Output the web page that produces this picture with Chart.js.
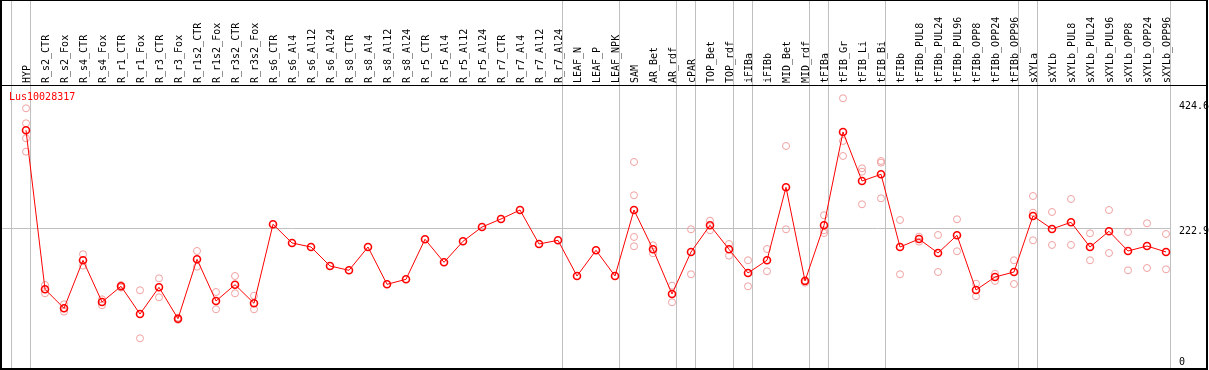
<!DOCTYPE html>
<html>
<head>
<meta charset="utf-8">
<script src="https://cdn.jsdelivr.net/npm/chart.js@4"></script>
<style>
  html, body { margin: 0; padding: 0; background: #fff; }
  #wrap { width: 1209px; height: 370px; position: relative; }
</style>
</head>
<body>
<div id="wrap"><canvas id="myChart" width="1209" height="370"></canvas></div>
<script>
const geneName = 'Lus10028317';

const samples = ['HYP','R_s2_CTR','R_s2_Fox','R_s4_CTR','R_s4_Fox','R_r1_CTR','R_r1_Fox','R_r3_CTR','R_r3_Fox',
  'R_r1s2_CTR','R_r1s2_Fox','R_r3s2_CTR','R_r3s2_Fox','R_s6_CTR','R_s6_Al4','R_s6_Al12','R_s6_Al24',
  'R_s8_CTR','R_s8_Al4','R_s8_Al12','R_s8_Al24','R_r5_CTR','R_r5_Al4','R_r5_Al12','R_r5_Al24',
  'R_r7_CTR','R_r7_Al4','R_r7_Al12','R_r7_Al24','LEAF_N','LEAF_P','LEAF_NPK','SAM','AR_Bet','AR_rdf',
  'cPAR','TOP_Bet','TOP_rdf','iFIBa','iFIBb','MID_Bet','MID_rdf','tFIBa','tFIB_Gr','tFIB_Li','tFIB_Bi',
  'tFIBb','tFIBb_PUL8','tFIBb_PUL24','tFIBb_PUL96','tFIBb_OPP8','tFIBb_OPP24','tFIBb_OPP96',
  'sXYLa','sXYLb','sXYLb_PUL8','sXYLb_PUL24','sXYLb_PUL96','sXYLb_OPP8','sXYLb_OPP24','sXYLb_OPP96'];

const meanValues = [380.3,123.8,93.1,170.6,103.3,128.6,83.9,127.0,76.3,
  172.2,104.9,131.2,101.2,228.7,198.5,192.0,161.4,
  154.4,192.0,131.8,139.9,204.5,167.3,201.2,224.3,
  237.2,251.7,196.9,202.8,145.2,186.7,145.2,251.7,188.3,116.2,
  184.0,227.1,188.3,150.1,170.6,288.4,137.2,227.1,377.6,298.5,309.3,
  192.0,204.9,182.3,210.9,122.6,143.6,151.7,
  242.1,221.1,231.9,192.0,217.4,185.6,193.6,184.0];

// replicate measurements, one list per sample (empty where only the mean is shown)
const replicates = [
  [415.8,391.6,367.4,345.8],[130.7,117.3],[99.6,87.6,93.1],[180.3,161.9],[107.6,98.0],[126.5,130.7],[122.2,44.7],[141.5,110.9],[74.5,78.1],
  [185.6,160.2],[119.4,91.5],[145.2,117.3],[113.4,91.5],[],[],[],[],
  [],[],[],[],[],[],[],[],
  [],[],[],[],[],[],[],[329.2,275.5,208.2,193.2],[194.8,181.9],[129.6,102.8],
  [220.6,148.0],[234.5,219.0],[196.9,178.0],[170.6,128.6],[188.8,152.8],[355.0,220.6],[138.3,134.4],[243.2,219.0,214.6],[432.0,363.1,338.9],[319.0,313.5,260.9],[330.8,328.1,270.6],
  [235.6,148.0],[208.7,200.6],[211.4,151.7],[236.7,185.1],[132.8,112.5],[148.9,137.2],[170.6,132.3],
  [274.3,247.4,202.8],[248.5,195.3],[269.5,195.3],[214.1,170.6],[251.7,182.3],[216.2,154.4],[230.3,158.1],[213.0,156.0]
];

// indices where a new sample group starts (grey separators)
const groupStarts = [0,1,29,32,35,36,38,39,42,43,46,53,54,61];
const yTicks = [0, 222.9, 424.6];
const refLine = 222.9;

const meanPoints = meanValues.map((v, i) => ({ x: i, y: v }));
const repPoints = [];
replicates.forEach((reps, i) => reps.forEach(v => repPoints.push({ x: i, y: v })));

const FONT = '10px "DejaVu Sans Mono", monospace';

const frame = {
  id: 'frame',
  beforeDatasetsDraw(chart) {
    const { ctx, scales: { x, y } } = chart;
    const H = chart.height;
    ctx.save();
    ctx.strokeStyle = '#c0c0c0';
    ctx.lineWidth = 1;
    groupStarts.forEach(i => {
      const px = Math.round(x.getPixelForValue(i - 0.78)) + 0.5;
      ctx.beginPath(); ctx.moveTo(px, 0); ctx.lineTo(px, H - 1); ctx.stroke();
    });
    const gy = Math.round(y.getPixelForValue(refLine)) + 0.5;
    const gEnd = Math.round(x.getPixelForValue(samples.length - 0.78));
    ctx.beginPath(); ctx.moveTo(0, gy); ctx.lineTo(gEnd, gy); ctx.stroke();
    ctx.restore();
  },
  afterDraw(chart) {
    const { ctx, scales: { x, y }, chartArea } = chart;
    const H = chart.height;
    ctx.save();
    // outer frame and header separator
    ctx.fillStyle = '#000';
    ctx.fillRect(0, 0, 1207, 1);
    ctx.fillRect(0, 0, 2, H);
    ctx.fillRect(0, H - 2, 1208, 2);
    ctx.fillRect(1206, 0, 2, H);
    ctx.fillRect(0, chartArea.top - 1, 1207, 1);

    // rotated sample labels
    ctx.font = FONT;
    ctx.fillStyle = '#000';
    ctx.textAlign = 'left';
    ctx.textBaseline = 'alphabetic';
    samples.forEach((s, i) => {
      const px = x.getPixelForValue(i);
      ctx.save();
      ctx.translate(px, chartArea.top - 3);
      ctx.rotate(-Math.PI / 2);
      ctx.fillText(s, 0, 4);
      ctx.restore();
    });

    // right-hand value labels
    ctx.textBaseline = 'middle';
    yTicks.forEach(t => {
      const py = Math.min(y.getPixelForValue(t) + 4, H - 8);
      ctx.fillText(String(t), 1179, py);
    });

    // gene name
    ctx.fillStyle = '#ff0000';
    ctx.textBaseline = 'alphabetic';
    ctx.fillText(geneName, 9, chartArea.top + 14);
    ctx.restore();
  }
};

new Chart(document.getElementById('myChart'), {
  type: 'line',
  data: {
    datasets: [
      {
        label: 'mean',
        data: meanPoints,
        borderColor: '#ff0000',
        borderWidth: 1,
        pointStyle: 'circle',
        pointRadius: 3.5,
        pointBorderWidth: 1.6,
        pointBorderColor: '#ff0000',
        pointBackgroundColor: 'rgba(0,0,0,0)',
        tension: 0,
        order: 0
      },
      {
        label: 'replicates',
        data: repPoints,
        showLine: false,
        pointStyle: 'circle',
        pointRadius: 3.5,
        pointBorderWidth: 1,
        pointBorderColor: '#f0a0a0',
        pointBackgroundColor: 'rgba(0,0,0,0)',
        order: 1
      }
    ]
  },
  options: {
    responsive: false,
    animation: false,
    devicePixelRatio: 1,
    layout: { autoPadding: false, padding: { left: 1, right: 3, top: 86, bottom: 1 } },
    scales: {
      x: { type: 'linear', display: false, min: -1.316, max: 62.105 },
      y: { type: 'linear', display: false, min: -4.84, max: 451.8 }
    },
    plugins: {
      legend: { display: false },
      tooltip: { enabled: false }
    }
  },
  plugins: [frame]
});
</script>
</body>
</html>
